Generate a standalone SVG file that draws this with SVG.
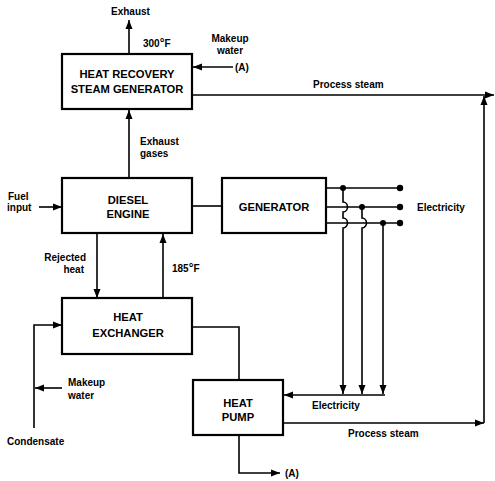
<svg xmlns="http://www.w3.org/2000/svg" width="495" height="481" viewBox="0 0 495 481">
<defs>
<style>
.box{fill:#fff;stroke:#000;stroke-width:2.2}
.ln{fill:none;stroke:#000;stroke-width:1.6}
.arr{fill:none;stroke:#000;stroke-width:1.6;marker-end:url(#ah)}
.bt{font-family:"Liberation Sans",Arial,sans-serif;font-weight:bold;font-size:11.2px;text-anchor:middle;fill:#000}
.lb{font-family:"Liberation Sans",Arial,sans-serif;font-weight:bold;font-size:10px;fill:#000}
.deg{font-size:12px}
.dot{fill:#000}
</style>
<marker id="ah" markerWidth="10" markerHeight="8" refX="9" refY="4" orient="auto" markerUnits="userSpaceOnUse">
<path d="M0,0.5 L9,4 L0,7.5 Z" fill="#000"/>
</marker>
</defs>
<rect width="495" height="481" fill="#fff"/>

<g id="connectors">
<line class="arr" x1="129" y1="54" x2="129" y2="20"/>
<line class="arr" x1="233" y1="67" x2="193" y2="67"/>
<line class="arr" x1="192" y1="95" x2="494" y2="95"/>
<line class="arr" x1="129" y1="178" x2="129" y2="110"/>
<line class="arr" x1="39" y1="207" x2="62" y2="207"/>
<line class="ln" x1="192" y1="206" x2="222" y2="206"/>
<line class="arr" x1="97" y1="233" x2="97" y2="298"/>
<line class="arr" x1="163" y1="298" x2="163" y2="234"/>
<line class="ln" x1="326" y1="188" x2="400" y2="188"/>
<line class="ln" x1="326" y1="207" x2="400" y2="207"/>
<line class="ln" x1="326" y1="223" x2="400" y2="223"/>
<circle class="dot" cx="400" cy="188" r="3.2"/>
<circle class="dot" cx="400" cy="207" r="3.2"/>
<circle class="dot" cx="400" cy="223" r="3.2"/>
<circle class="dot" cx="343" cy="188" r="3"/>
<circle class="dot" cx="362" cy="207" r="3"/>
<circle class="dot" cx="383" cy="223" r="3"/>
<path class="arr" d="M343,188 L343,202 A4.5,5 0 0 1 343,212 L343,218 A4.5,5 0 0 1 343,228 L343,394"/>
<path class="arr" d="M362,207 L362,218 A4.5,5 0 0 1 362,228 L362,394"/>
<line class="arr" x1="383" y1="223" x2="383" y2="394"/>
<polyline class="arr" points="385,395 284,395"/>
<polyline class="ln" points="192,327 239,327 239,380"/>
<polyline class="arr" points="34,428 34,325 62,325"/>
<line class="arr" x1="62" y1="388" x2="35" y2="388"/>
<line class="arr" x1="283" y1="423" x2="484" y2="423"/>
<line class="arr" x1="484" y1="423" x2="484" y2="96"/>
<polyline class="arr" points="239,435 239,473 280,473"/>
</g>

<g id="hrsg">
<rect class="box" x="62" y="54" width="130" height="55"/>
<text class="bt" x="127" y="78">HEAT RECOVERY</text>
<text class="bt" x="127" y="93">STEAM GENERATOR</text>
</g>
<g id="diesel">
<rect class="box" x="62" y="178" width="130" height="55"/>
<text class="bt" x="128" y="204">DIESEL</text>
<text class="bt" x="128" y="218">ENGINE</text>
</g>
<g id="generator">
<rect class="box" x="222" y="178" width="104" height="55"/>
<text class="bt" x="274" y="211">GENERATOR</text>
</g>
<g id="heatexchanger">
<rect class="box" x="62" y="298" width="130" height="56"/>
<text class="bt" x="128" y="321">HEAT</text>
<text class="bt" x="128" y="337">EXCHANGER</text>
</g>
<g id="heatpump">
<rect class="box" x="193" y="380" width="90" height="55"/>
<text class="bt" x="238" y="407">HEAT</text>
<text class="bt" x="238" y="421">PUMP</text>
</g>

<g id="labels">
<text class="lb" x="111" y="15">Exhaust</text>
<text class="lb" x="143" y="47">300<tspan class="deg">°</tspan>F</text>
<text class="lb" x="230" y="42" text-anchor="middle">Makeup</text>
<text class="lb" x="230" y="54" text-anchor="middle">water</text>
<text class="lb" x="235" y="71">(A)</text>
<text class="lb" x="313" y="88">Process steam</text>
<text class="lb" x="140" y="145">Exhaust</text>
<text class="lb" x="140" y="157">gases</text>
<text class="lb" x="8" y="200">Fuel</text>
<text class="lb" x="7" y="211">input</text>
<text class="lb" x="417" y="211">Electricity</text>
<text class="lb" x="86" y="261" text-anchor="end">Rejected</text>
<text class="lb" x="84" y="273" text-anchor="end">heat</text>
<text class="lb" x="172" y="272">185<tspan class="deg">°</tspan>F</text>
<text class="lb" x="68" y="386">Makeup</text>
<text class="lb" x="68" y="399">water</text>
<text class="lb" x="7" y="445">Condensate</text>
<text class="lb" x="312" y="409">Electricity</text>
<text class="lb" x="348" y="437">Process steam</text>
<text class="lb" x="285" y="477">(A)</text>
</g>
</svg>
